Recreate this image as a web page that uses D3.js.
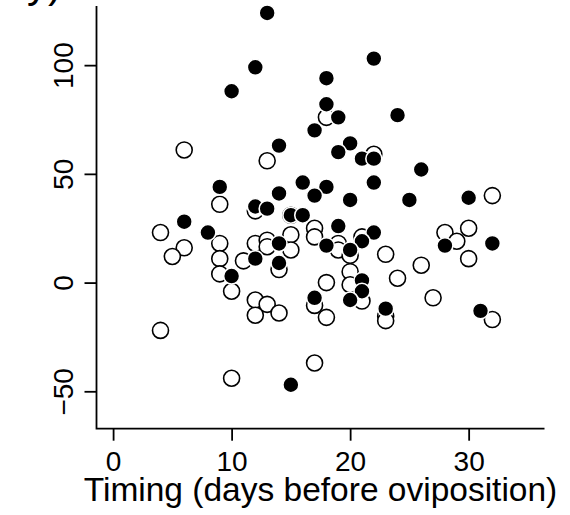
<!DOCTYPE html>
<html>
<head>
<meta charset="utf-8">
<script src="https://cdn.jsdelivr.net/npm/d3@7"></script>
<style>
  html, body { margin: 0; padding: 0; background: #fff; }
  svg { display: block; font-family: "Liberation Sans", Arial, Helvetica, sans-serif; }
</style>
</head>
<body>
<svg id="chart" width="570" height="515"></svg>
<script>
// ---- data ----
const xTicks = [0, 10, 20, 30];
const yTicks = [-50, 0, 50, 100];
const xLabel = "Timing (days before oviposition)";

// open circles
const openX = [6, 13, 18, 22, 9, 12, 15, 32, 4, 6, 5, 9, 9, 9, 10, 11, 12, 13, 13, 14, 15, 15, 17, 17, 19, 19, 20, 21, 20, 20, 21, 18, 17, 18, 23, 24, 26, 23, 23, 27, 28, 29, 30, 30, 32, 12, 13, 14, 12, 4, 10, 17];
const openY = [61, 56, 76, 59, 36, 33, 31, 40, 23, 16, 12, 18, 11, 4, -4, 10, 18, 19.5, 16.5, 6, 22, 15, 25, 21, 18, 15, 12.5, 21, 5, -1, -8.5, 0, -10.5, -16, 13, 2, 8, -15.5, -17.5, -7, 23, 19, 25, 11, -17, -8, -10, -14, -15, -22, -44, -37];

// filled circles
const fillX = [13, 12, 10, 22, 18, 18, 19, 17, 24, 20, 14, 19, 21, 22, 26, 16, 18, 22, 9, 14, 17, 20, 25, 30, 12, 13, 15, 16, 6, 8, 19, 22, 14, 18, 21, 20, 28, 32, 12, 14, 10, 21, 21, 20, 17, 23, 31, 15];
const fillY = [124, 99, 88, 103, 94, 82, 76, 70, 77, 64, 63, 60, 57, 57, 52, 46, 44, 46, 44, 41, 40, 38, 38, 39, 35, 34, 31, 31, 28, 23, 26, 23, 18, 17, 19, 15, 17, 18, 11, 9, 3, 1, -4, -8, -7, -12, -13, -47];

// ---- drawing ----
const svg = d3.select("#chart");
const x = d3.scaleLinear().domain([-1.4, 36.4]).range([96.5, 544.5]);
const y = d3.scaleLinear().domain([-67.2, 127.2]).range([428.7, 6]);

const tickLen = 12;
const fontTick = 28;

const xAxis = d3.axisBottom(x).tickValues(xTicks).tickSize(tickLen).tickFormat(d3.format("d"));
const yAxis = d3.axisLeft(y).tickValues(yTicks).tickSize(tickLen).tickFormat(d => d < 0 ? "\u2212" + Math.abs(d) : d);

const gx = svg.append("g").attr("transform", `translate(0,${y.range()[0]})`).call(xAxis);
gx.select(".domain").remove();
gx.selectAll(".tick line").attr("stroke", "#000").attr("stroke-width", 1.8);
gx.selectAll(".tick text").attr("font-size", fontTick).attr("fill", "#000")
  .attr("dy", null).attr("y", 42);

const gy = svg.append("g").attr("transform", `translate(${x.range()[0]},0)`).call(yAxis);
gy.select(".domain").remove();
gy.selectAll(".tick line").attr("stroke", "#000").attr("stroke-width", 1.8);
gy.selectAll(".tick text").attr("font-size", fontTick).attr("fill", "#000")
  .attr("x", null).attr("dy", null)
  .attr("text-anchor", "middle")
  .attr("transform", "translate(-24,0) rotate(-90)");

// L-shaped frame
svg.append("path")
  .attr("d", `M${x.range()[0]},${y.range()[1]}V${y.range()[0]}H${x.range()[1]}`)
  .attr("fill", "none").attr("stroke", "#000").attr("stroke-width", 1.8);

// points
const r = 8;
const openPts = openX.map((d, i) => ({x: d, y: openY[i]}));
const fillPts = fillX.map((d, i) => ({x: d, y: fillY[i]}));

svg.append("g").selectAll("circle").data(openPts).join("circle")
  .attr("cx", d => x(d.x)).attr("cy", d => y(d.y)).attr("r", r)
  .attr("fill", "#fff").attr("stroke", "#000").attr("stroke-width", 1.6);

svg.append("g").selectAll("circle").data(fillPts).join("circle")
  .attr("cx", d => x(d.x)).attr("cy", d => y(d.y)).attr("r", r)
  .attr("fill", "#000").attr("stroke", "#fff").attr("stroke-width", 1.6);

// x label
svg.append("text")
  .attr("x", (x.range()[0] + x.range()[1]) / 2).attr("y", 501)
  .attr("text-anchor", "middle").attr("font-size", 33.5).attr("fill", "#000")
  .text(xLabel);

// cut-off fragment at top-left
svg.append("text")
  .attr("x", 27).attr("y", -3)
  .attr("font-size", 42).attr("fill", "#000")
  .text("y)");
</script>
</body>
</html>
